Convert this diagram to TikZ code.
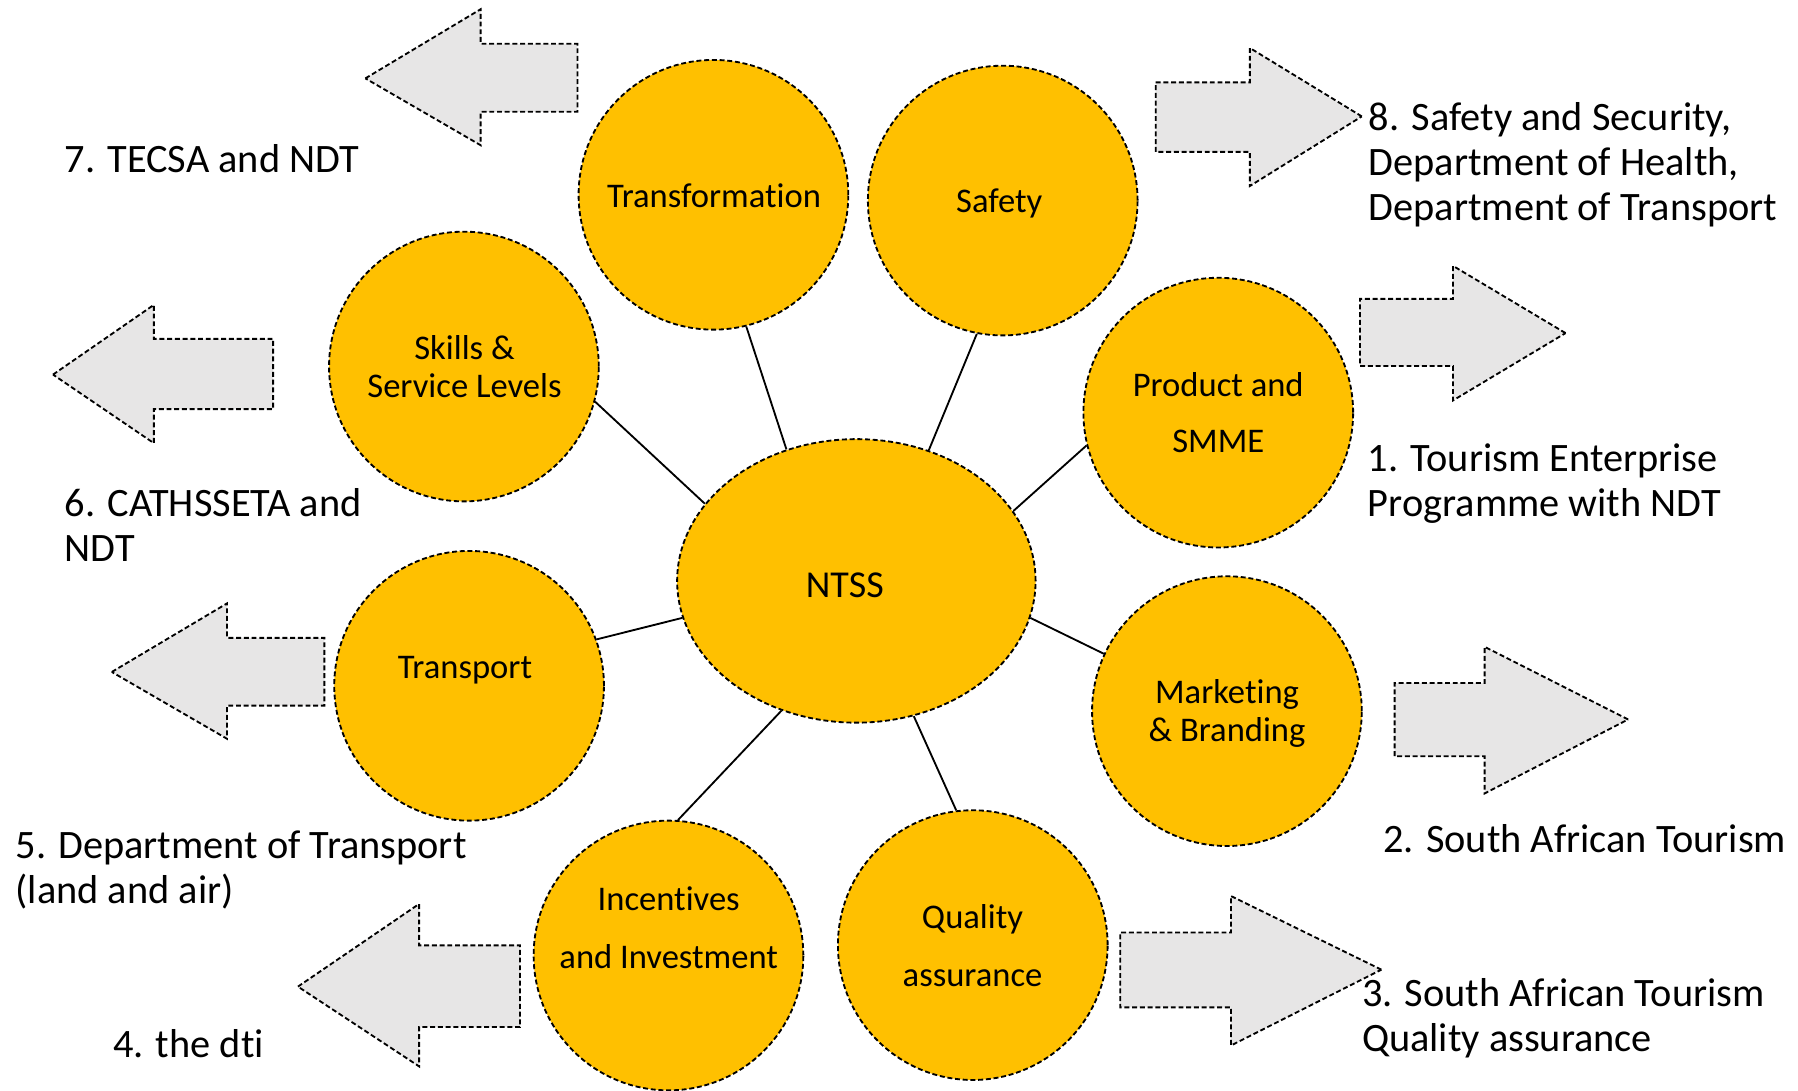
\documentclass[tikz,border=0pt]{standalone}
\usepackage{fontspec}
\setmainfont{Carlito}[Ligatures=NoCommon]
\usetikzlibrary{shapes.geometric}
\definecolor{gold}{HTML}{FFC000}
\definecolor{arrowgray}{HTML}{E7E6E6}
\begin{document}
\begin{tikzpicture}[x=1pt,y=-1pt,
  dsh/.style={draw=black, line width=1.6pt, dash pattern=on 4.3pt off 2.4pt},
  topic/.style={circle, dsh, fill=gold, minimum size=234pt, inner sep=0pt},
  hub/.style={ellipse, dsh, fill=gold, minimum width=311pt, minimum height=246pt, inner sep=0pt},
  blockarrow/.style={dsh, fill=arrowgray, line join=miter},
  link/.style={draw=black, line width=1.6pt},
  intext/.style={font={\fontsize{30}{33}\selectfont}, align=center, anchor=base, inner sep=0pt},
  outtext/.style={font={\fontsize{35}{39}\selectfont}, align=left, anchor=base west, inner sep=0pt}]
\useasboundingbox (0,0) rectangle (1560,946);
\fill[white] (0,0) rectangle (1560,946);
% block arrows
\path[blockarrow] (317,68) -- (417,8) -- (417,38) -- (501,38) -- (501,97) -- (417,97) -- (417,126) -- cycle;
\path[blockarrow] (46,325) -- (133.5,264.5) -- (133.5,294) -- (237,294) -- (237,355) -- (133.5,355) -- (133.5,384.5) -- cycle;
\path[blockarrow] (97,583) -- (197,523.5) -- (197,553.4) -- (281.4,553.4) -- (281.4,612.2) -- (197,612.2) -- (197,641) -- cycle;
\path[blockarrow] (258.5,856) -- (363.6,784.3) -- (363.6,820.2) -- (451.2,820.2) -- (451.2,891.1) -- (363.6,891.1) -- (363.6,925.2) -- cycle;
\path[blockarrow] (1181.5,101) -- (1084.4,41.6) -- (1084.4,71.5) -- (1002.7,71.5) -- (1002.7,131.8) -- (1084.4,131.8) -- (1084.4,161.4) -- cycle;
\path[blockarrow] (1358.3,289) -- (1260.7,230.7) -- (1260.7,259.3) -- (1180,259.3) -- (1180,317.6) -- (1260.7,317.6) -- (1260.7,347.4) -- cycle;
\path[blockarrow] (1412.6,624.2) -- (1288.1,561.2) -- (1288.1,592.6) -- (1210,592.6) -- (1210,656.2) -- (1288.1,656.2) -- (1288.1,688.4) -- cycle;
\path[blockarrow] (1198.5,841.3) -- (1068,777.4) -- (1068,809.1) -- (971.9,809.1) -- (971.9,874) -- (1068,874) -- (1068,907.1) -- cycle;
% circles
\node[topic] (trans) at (619,169) {};
\node[topic] (safety) at (870,174) {};
\node[topic] (skills) at (402.5,318) {};
\node[topic] (product) at (1057,358) {};
\node[hub] (ntss) at (743,504) {};
\node[topic] (transport) at (407,595) {};
\node[topic] (marketing) at (1064.5,617) {};
\node[topic] (incent) at (580,829) {};
\node[topic] (quality) at (844,820) {};
% connectors
\draw[link] (trans.-76) -- (ntss.118);
\draw[link] (safety.259) -- (ntss.61);
\draw[link] (skills.-15) -- (ntss.153);
\draw[link] (product.194) -- (ntss.24);
\draw[link] (transport.20) -- (ntss.192);
\draw[link] (marketing.155) -- (ntss.-12);
\draw[link] (incent.86) -- (ntss.240);
\draw[link] (quality.97) -- (ntss.293);
% inner texts (anchor = baseline of last line)
\node[intext] (tTrans) at (619.5,180.3) {Transformation};
\node[intext] (tSafety) at (867,184) {Safety};
\node[intext] (tSkills) at (403,345) {Skills \&\\Service Levels};
\node[intext] (tProduct) at (1057,393) {Product and\\[16pt]SMME};
\node[intext] (tTransport) at (403.4,589) {Transport};
\node[intext] (tMarketing) at (1064.6,643.2) {Marketing\\\& Branding};
\node[intext] (tIncent) at (580.2,840.2) {Incentives\\[17.6pt]and Investment};
\node[intext] (tQuality) at (843.8,855.8) {Quality\\[17pt]assurance};
\node[intext, font={\fontsize{33}{36}\selectfont}] (tNtss) at (733,518.6) {NTSS};
% outer texts (anchor = baseline of last line)
\node[outtext] (o7) at (56,149.3) {7. TECSA and NDT};
\node[outtext] (o6) at (56,487) {6. CATHSSETA and\\NDT};
\node[outtext] (o5) at (13.4,783.5) {5. Department of Transport\\(land and air)};
\node[outtext] (o4) at (98,917.7) {4. the dti};
\node[outtext] (o8) at (1187.5,190.9) {8. Safety and Security,\\Department of Health,\\Department of Transport};
\node[outtext] (o1) at (1186.6,447.8) {1. Tourism Enterprise\\Programme with NDT};
\node[outtext] (o2) at (1200,739.7) {2. South African Tourism};
\node[outtext] (o3) at (1181.5,912.5) {3. South African Tourism\\Quality assurance};
\end{tikzpicture}
\end{document}
